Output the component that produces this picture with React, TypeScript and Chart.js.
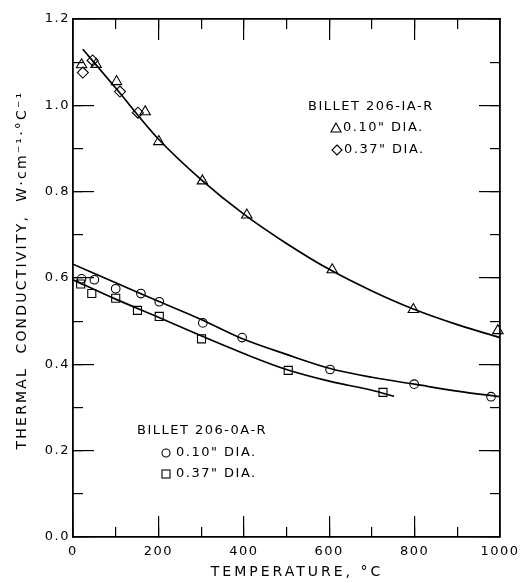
import { useEffect, useRef } from "react";
import { Chart, registerables } from "chart.js";

Chart.register(...registerables);

const FONT = '"DejaVu Sans", sans-serif';

// Billet 206-1A-R
const tempTri = [20, 54, 102, 169, 201, 303, 407, 607, 797, 995];
const kTri = [1.094, 1.095, 1.055, 0.985, 0.916, 0.825, 0.746, 0.619, 0.527, 0.478];
const tempDia = [23, 46, 110, 152];
const kDia = [1.076, 1.104, 1.032, 0.983];
// Billet 206-0A-R
const tempCir = [20, 50, 100, 159, 202, 304, 396, 602, 799, 979];
const kCir = [0.598, 0.596, 0.575, 0.564, 0.545, 0.496, 0.462, 0.388, 0.354, 0.325];
const tempSq = [18, 44, 100, 151, 202, 301, 504, 726];
const kSq = [0.586, 0.564, 0.553, 0.525, 0.511, 0.459, 0.386, 0.335];

// fitted curves
const fitUpperT = [23, 100, 200, 300, 400, 500, 600, 700, 800, 900, 1000];
const fitUpperK = [1.13, 1.04, 0.922, 0.828, 0.748, 0.68, 0.62, 0.57, 0.527, 0.492, 0.462];
const fitCirT = [0, 100, 200, 300, 400, 500, 600, 700, 800, 900, 1000];
const fitCirK = [0.632, 0.589, 0.546, 0.504, 0.458, 0.423, 0.391, 0.37, 0.354, 0.338, 0.325];
const fitSqT = [0, 100, 200, 300, 400, 500, 600, 700, 752];
const fitSqK = [0.596, 0.551, 0.509, 0.466, 0.425, 0.388, 0.361, 0.34, 0.326];

const xMajorStep = 200;
const xMinorStep = 100;
const yMajorStep = 0.2;
const yMinorStep = 0.1;

const xTitle = "TEMPERATURE, °C";
const yTitle = "THERMAL  CONDUCTIVITY,  W·cm⁻¹·°C⁻¹";
const upperLegend = ["BILLET 206-IA-R", '0.10" DIA.', '0.37" DIA.'];
const lowerLegend = ["BILLET 206-0A-R", '0.10" DIA.', '0.37" DIA.'];

const zip = (xs: number[], ys: number[]) => xs.map((x, i) => ({ x, y: ys[i] }));

const spacingPlugin = {
  id: "spacing",
  beforeDraw(chart: any) {
    chart.ctx.letterSpacing = "1.5px";
  },
};

const textPlugin = {
  id: "texts",
  afterDraw(chart: any) {
    const ctx = chart.ctx;
    ctx.save();
    ctx.fillStyle = "#000";
    ctx.strokeStyle = "#000";
    ctx.textBaseline = "middle";
    ctx.textAlign = "center";
    ctx.font = `14px ${FONT}`;
    ctx.letterSpacing = "3px";
    ctx.fillText(xTitle, 297, 572);
    ctx.font = `14px ${FONT}`;
    ctx.letterSpacing = "2.2px";
    ctx.save();
    ctx.translate(22, 270);
    ctx.rotate(-Math.PI / 2);
    ctx.fillText(yTitle, 0, 0);
    ctx.restore();

    ctx.font = `13px ${FONT}`;
    ctx.letterSpacing = "1.5px";
    ctx.textAlign = "left";
    ctx.fillText(upperLegend[0], 308, 107);
    ctx.fillText(upperLegend[1], 343, 128);
    ctx.fillText(upperLegend[2], 344, 150);
    ctx.lineWidth = 1.1;
    ctx.beginPath();
    ctx.moveTo(336, 123);
    ctx.lineTo(341, 132);
    ctx.lineTo(331, 132);
    ctx.closePath();
    ctx.stroke();
    ctx.beginPath();
    ctx.moveTo(337, 145);
    ctx.lineTo(342, 150);
    ctx.lineTo(337, 155);
    ctx.lineTo(332, 150);
    ctx.closePath();
    ctx.stroke();

    ctx.fillText(lowerLegend[0], 137, 431);
    ctx.fillText(lowerLegend[1], 176, 453);
    ctx.fillText(lowerLegend[2], 176, 474);
    ctx.beginPath();
    ctx.arc(166, 453, 4, 0, Math.PI * 2);
    ctx.stroke();
    ctx.strokeRect(162, 470, 8, 8);
    ctx.restore();
  },
};

export default function App() {
  const ref = useRef<HTMLCanvasElement | null>(null);
  useEffect(() => {
    document.body.style.margin = "0";
    const canvas = ref.current!;
    const lineDs = (label: string, t: number[], k: number[]) => ({
      type: "line" as const,
      label,
      data: zip(t, k),
      xAxisID: "x",
      yAxisID: "y",
      borderColor: "#000",
      borderWidth: 1.7,
      pointRadius: 0,
      fill: false,
      cubicInterpolationMode: "monotone" as const,
    });
    const ptDs = (label: string, t: number[], k: number[], style: string, r: number) => ({
      type: "scatter" as const,
      label,
      data: zip(t, k),
      xAxisID: "x",
      yAxisID: "y",
      pointStyle: style,
      pointRadius: r,
      borderColor: "#000",
      backgroundColor: "rgba(0,0,0,0)",
      borderWidth: 1.1,
      showLine: false,
      clip: 10,
    });
    const frameBorder = { display: true, color: "#000", width: 1.8 };
    const noBorder = { display: false };
    // inward tick marks: negative tickLength, no grid lines on the chart area
    const ticksGrid = (len: number) => ({
      display: true,
      drawOnChartArea: false,
      drawTicks: true,
      tickLength: -len,
      color: "#000",
      lineWidth: 1.2,
      tickWidth: 1.2,
    });
    const hiddenTicks = (step: number) => ({ display: false, stepSize: step, autoSkip: false });
    const zeroH = (s: any) => {
      s.height = 0;
      s.paddingLeft = 0;
      s.paddingRight = 0;
    };
    const zeroW = (s: any) => {
      s.width = 0;
      s.paddingTop = 0;
      s.paddingBottom = 0;
    };
    const chart = new Chart(canvas, {
      type: "scatter",
      data: {
        datasets: [
          lineDs("fit 206-1A-R", fitUpperT, fitUpperK),
          lineDs("fit 206-0A-R 0.10", fitCirT, fitCirK),
          lineDs("fit 206-0A-R 0.37", fitSqT, fitSqK),
          ptDs('206-1A-R 0.10"', tempTri, kTri, "triangle", 6),
          ptDs('206-1A-R 0.37"', tempDia, kDia, "rectRot", 5.5),
          ptDs('206-0A-R 0.10"', tempCir, kCir, "circle", 4.3),
          ptDs('206-0A-R 0.37"', tempSq, kSq, "rect", 5.7),
        ] as any,
      },
      options: {
        animation: false,
        responsive: false,
        maintainAspectRatio: false,
        layout: { padding: { top: 19, right: 20, left: 0, bottom: 0 } },
        plugins: { legend: { display: false }, tooltip: { enabled: false } },
        scales: {
          x: {
            type: "linear",
            position: "bottom",
            weight: 1,
            min: 0,
            max: 1000,
            grid: ticksGrid(21),
            border: frameBorder,
            ticks: {
              stepSize: xMajorStep,
              autoSkip: false,
              color: "#000",
              font: { family: FONT, size: 13 },
              padding: 28,
              maxRotation: 0,
              callback: (v: any) => String(v),
            },
            afterFit: (s: any) => {
              s.height = 46;
              s.paddingLeft = 0;
              s.paddingRight = 0;
            },
          },
          xMinor: {
            type: "linear",
            position: "bottom",
            weight: 0,
            min: 0,
            max: 1000,
            grid: ticksGrid(10),
            border: noBorder,
            ticks: hiddenTicks(xMinorStep),
            afterFit: zeroH,
          },
          y: {
            type: "linear",
            position: "left",
            weight: 1,
            min: 0,
            max: 1.2,
            grid: ticksGrid(21),
            border: frameBorder,
            ticks: {
              stepSize: yMajorStep,
              autoSkip: false,
              color: "#000",
              font: { family: FONT, size: 13 },
              padding: 24,
              callback: (v: any) => Number(v).toFixed(1),
            },
            afterFit: (s: any) => {
              s.width = 73;
              s.paddingTop = 0;
              s.paddingBottom = 0;
            },
          },
          yMinor: {
            type: "linear",
            position: "left",
            weight: 0,
            min: 0,
            max: 1.2,
            grid: ticksGrid(10),
            border: noBorder,
            ticks: hiddenTicks(yMinorStep),
            afterFit: zeroW,
          },
          x2: {
            type: "linear",
            position: "top",
            weight: 0,
            min: 0,
            max: 1000,
            grid: ticksGrid(21),
            border: frameBorder,
            ticks: hiddenTicks(xMajorStep),
            afterFit: zeroH,
          },
          x2Minor: {
            type: "linear",
            position: "top",
            weight: 1,
            min: 0,
            max: 1000,
            grid: ticksGrid(10),
            border: noBorder,
            ticks: hiddenTicks(xMinorStep),
            afterFit: zeroH,
          },
          y2: {
            type: "linear",
            position: "right",
            weight: 0,
            min: 0,
            max: 1.2,
            grid: ticksGrid(21),
            border: frameBorder,
            ticks: hiddenTicks(yMajorStep),
            afterFit: zeroW,
          },
          y2Minor: {
            type: "linear",
            position: "right",
            weight: 1,
            min: 0,
            max: 1.2,
            grid: ticksGrid(10),
            border: noBorder,
            ticks: hiddenTicks(yMinorStep),
            afterFit: zeroW,
          },
        },
      },
      plugins: [spacingPlugin, textPlugin],
    });
    return () => chart.destroy();
  }, []);
  return <canvas ref={ref} width={520} height={583} style={{ display: "block" }} />;
}
